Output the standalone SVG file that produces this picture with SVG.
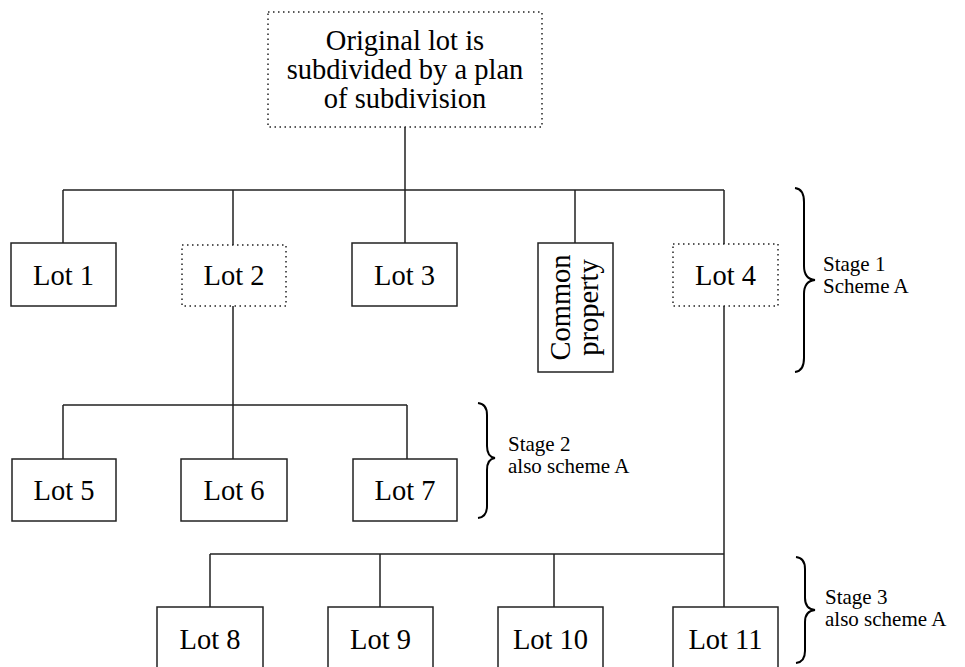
<svg xmlns="http://www.w3.org/2000/svg" width="965" height="667" viewBox="0 0 965 667">
<style>
.box{fill:#fff;stroke:#222;stroke-width:1.5}
.dot{fill:#fff;stroke:#222;stroke-width:1.5;stroke-dasharray:1.5 3.5}
.t{font-family:"Liberation Serif","Times New Roman",serif;font-size:28.5px;fill:#000;text-anchor:middle}
.s{font-family:"Liberation Serif","Times New Roman",serif;font-size:21px;fill:#000}
.c{fill:none;stroke:#222;stroke-width:1.5}
.br{fill:none;stroke:#000;stroke-width:2}
</style>
<rect width="965" height="667" fill="#fff"/>
<g id="connectors">
<path class="c" d="M405 127V190M63 190H724M63 190V243M233 190V245M405 190V243M575 190V243M724 190V244"/>
<path class="c" d="M233 306V405M63 405H407M63 405V459M233 405V459M407 405V459"/>
<path class="c" d="M724 306V554M210 554H724M210 554V607M380 554V607M554 554V607M724 554V607"/>
</g>
<g id="braces">
<path class="br" d="M795 188Q804 189 804 202V266Q804 279 815 280Q804 281 804 294V358Q804 371 795 372"/>
<path class="br" d="M478 403Q487 404 487 415V446Q487 457 495 458Q487 459 487 470V506Q487 517 478 518"/>
<path class="br" d="M796 557Q805 558 805 569V598Q805 609 815 610Q805 611 805 622V651Q805 662 796 663"/>
</g>
<g id="root"><rect class="dot" x="268" y="12" width="274" height="115"/>
<text class="t" x="405" y="50">Original lot is</text>
<text class="t" x="405" y="79">subdivided by a plan</text>
<text class="t" x="405" y="108">of subdivision</text></g>
<g id="lot1"><rect class="box" x="11" y="243" width="105" height="63"/><text class="t" x="63.5" y="285">Lot 1</text></g>
<g id="lot2"><rect class="dot" x="182" y="245" width="104" height="61"/><text class="t" x="234" y="285">Lot 2</text></g>
<g id="lot3"><rect class="box" x="352" y="243" width="105" height="63"/><text class="t" x="404.5" y="285">Lot 3</text></g>
<g id="common"><rect class="box" x="538" y="243" width="75" height="129"/>
<text class="t" transform="translate(570 307.5) rotate(-90)">Common</text>
<text class="t" transform="translate(598 307.5) rotate(-90)">property</text></g>
<g id="lot4"><rect class="dot" x="673" y="244" width="105" height="62"/><text class="t" x="725.5" y="285">Lot 4</text></g>
<g id="lot5"><rect class="box" x="12" y="459" width="104" height="62"/><text class="t" x="64" y="500">Lot 5</text></g>
<g id="lot6"><rect class="box" x="181" y="459" width="106" height="62"/><text class="t" x="234" y="500">Lot 6</text></g>
<g id="lot7"><rect class="box" x="353" y="459" width="104" height="62"/><text class="t" x="405" y="500">Lot 7</text></g>
<g id="lot8"><rect class="box" x="157" y="607" width="106" height="63"/><text class="t" x="210" y="649">Lot 8</text></g>
<g id="lot9"><rect class="box" x="328" y="607" width="105" height="63"/><text class="t" x="380.5" y="649">Lot 9</text></g>
<g id="lot10"><rect class="box" x="498" y="607" width="105" height="63"/><text class="t" x="550.5" y="649">Lot 10</text></g>
<g id="lot11"><rect class="box" x="673" y="607" width="105" height="63"/><text class="t" x="725.5" y="649">Lot 11</text></g>
<g id="stage1"><text class="s" x="823" y="271">Stage 1</text><text class="s" x="823" y="293">Scheme A</text></g>
<g id="stage2"><text class="s" x="508" y="451">Stage 2</text><text class="s" x="508" y="473">also scheme A</text></g>
<g id="stage3"><text class="s" x="825" y="604">Stage 3</text><text class="s" x="825" y="626">also scheme A</text></g>
</svg>
